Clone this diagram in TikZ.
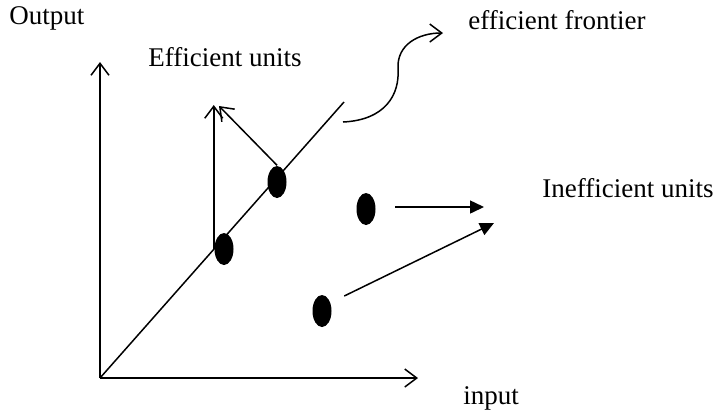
\documentclass[tikz,border=0pt]{standalone}
\usepackage{fontspec}
\setmainfont{Liberation Serif}
\usepackage{tikz}
\usetikzlibrary{arrows.meta,shapes.geometric}
\usetikzlibrary{positioning}

\tikzset{
	dmu/.style={ellipse,fill=black,inner sep=0pt,minimum width=9.5pt,minimum height=16pt},
	lbl/.style={font=\fontsize{13.5}{16}\selectfont,inner sep=0pt},
	barb/.style={-{Straight Barb[length=6pt,width=9pt]}},
	tri/.style={-{Triangle[length=7pt,width=6.5pt]}}
}

\begin{document}
\begin{tikzpicture}[x=0.5pt,y=-0.5pt,line width=0.75pt]
	\useasboundingbox (0,0) rectangle (723,409);
	
	% axes
	\coordinate (o) at (100,378);
	\coordinate (ytop) at (100,62);
	\coordinate (xend) at (418,378);
	\draw[barb] (o)--(ytop);
	\draw[barb] (o)--(xend);
	\node[lbl] (output) at (47,18) {Output};
	\node[lbl] (input) at (491,398) {input};
	
	% frontier
	\coordinate (fend) at (344,102);
	\draw (o)--(fend);
	
	% units
	\node[dmu] (e1) at (224,249) {};
	\node[dmu] (e2) at (277,182) {};
	\node[dmu] (i1) at (366,209) {};
	\node[dmu] (i2) at (322,311) {};
	
	\coordinate (t1) at (215,105);
	\coordinate (t2) at (219,106);
	\draw[barb] (e1.west)--(e1.west |- t1);
	\draw[barb] (e2.north)--(t2);
	\node[lbl] (eff) at (225,57) {Efficient units};
	
	\coordinate (a1) at (484,207);
	\coordinate (a2) at (494,223);
	\draw[tri] (i1.east)++(19,-2)--(a1);
	\draw[tri] (i2.east)++(12,-15)--(a2);
	\node[lbl] (ineff) at (628,188) {Inefficient units};
	
	% label of the frontier
	\node[lbl] (front) at (557,20) {efficient frontier};
	\draw[barb] (343,122) .. controls (385,120) and (400,95) .. (398,68)
		.. controls (397,45) and (418,33) .. (443,33);
\end{tikzpicture}
\end{document}
